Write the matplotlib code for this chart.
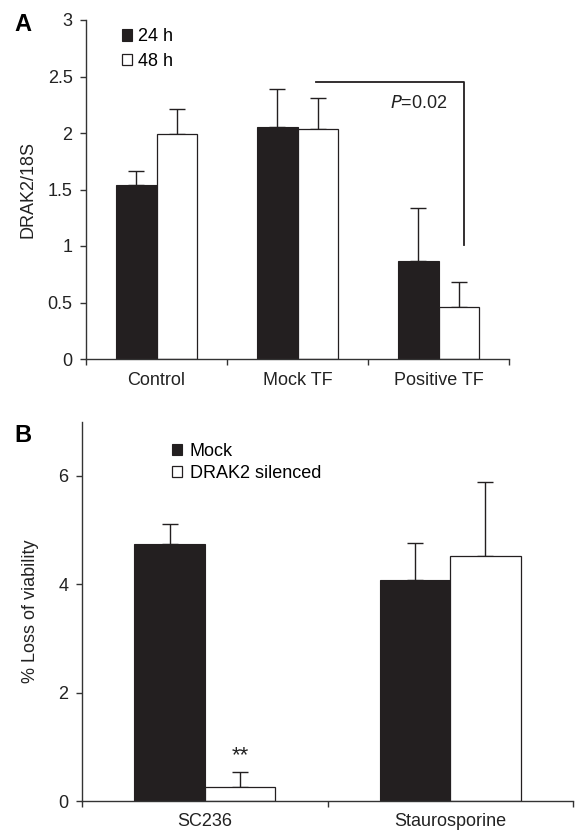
import matplotlib
matplotlib.use("Agg")
import matplotlib.pyplot as plt
import numpy as np

plt.rcParams['font.family'] = ['Liberation Sans', 'DejaVu Sans']

# Panel A data
cats_a = ["Control", "Mock TF", "Positive TF"]
a_24h = [1.54, 2.056, 0.864]
a_24h_err = [0.12, 0.335, 0.476]
a_48h = [1.99, 2.035, 0.46]
a_48h_err = [0.225, 0.275, 0.225]
yticks_a = [0, 0.5, 1, 1.5, 2, 2.5, 3]
ytick_labels_a = ["0", "0.5", "1", "1.5", "2", "2.5", "3"]

# Panel B data
cats_b = ["SC236", "Staurosporine"]
b_mock = [4.74, 4.08]
b_mock_err = [0.37, 0.69]
b_sil = [0.264, 4.53]
b_sil_err = [0.276, 1.35]
yticks_b = [0, 2, 4, 6]

DARK = '#231f20'
FS = 13

fig = plt.figure(figsize=(5.75, 8.31), dpi=100)

def style_axes(ax, ncat):
    for s in ['top', 'right']:
        ax.spines[s].set_visible(False)
    for s in ['left', 'bottom']:
        ax.spines[s].set_linewidth(1.0)
        ax.spines[s].set_color('#333333')
    ax.set_xlim(-0.5, ncat - 0.5)
    ax.set_xticks(np.arange(ncat + 1) - 0.5)
    ax.set_xticklabels([])
    ax.tick_params(axis='x', which='major', direction='out', length=4, width=1, color='#333333')
    ax.tick_params(axis='y', direction='out', length=4.2, width=1, color='#333333',
                   labelsize=FS, pad=5.5, labelcolor='#222222')

def draw_bars(ax, v1, e1, v2, e2, w, capsize):
    x = np.arange(len(v1))
    b1 = ax.bar(x - w / 2, v1, w, color=DARK, edgecolor=DARK, linewidth=0.8, zorder=2)
    b2 = ax.bar(x + w / 2, v2, w, color='white', edgecolor=DARK, linewidth=0.9, zorder=2)
    ax.errorbar(x - w / 2, v1, yerr=[np.zeros(len(v1)), e1], fmt='none', ecolor=DARK,
                elinewidth=1.0, capsize=capsize, capthick=1.0, zorder=1)
    ax.errorbar(x + w / 2, v2, yerr=[np.zeros(len(v2)), e2], fmt='none', ecolor=DARK,
                elinewidth=1.0, capsize=capsize, capthick=1.0, zorder=1)
    return b1, b2

w = 0.287

# ---------- Panel A ----------
axA = fig.add_axes([86/575, 1 - 359/831, (509-86)/575, (359-20)/831])
b1, b2 = draw_bars(axA, a_24h, a_24h_err, a_48h, a_48h_err, w, 5.5)
style_axes(axA, len(cats_a))
axA.set_ylim(0, 3)
axA.set_yticks(yticks_a)
axA.set_yticklabels(ytick_labels_a)
axA.set_xticks(np.arange(len(cats_a)), minor=True)
axA.set_xticklabels(cats_a, minor=True)
axA.tick_params(axis='x', which='minor', length=0, labelsize=FS, pad=9, labelcolor='#222222')
axA.set_ylabel("DRAK2/18S", fontsize=FS, labelpad=8, color='#222222')
# significance bracket
xl = 1 + w / 2 - 0.015
xr = 2.18
axA.plot([xl, xr, xr], [2.45, 2.45, 1.01], color=DARK, lw=1.3, zorder=3, clip_on=False)
axA.text(1.86, 2.26, r"$\it{P}$=0.02", fontsize=FS, ha='center', va='center', color='#222222')
axA.legend([b1, b2], ["24 h", "48 h"], frameon=False, loc='upper left',
           bbox_to_anchor=(0.085, 0.975), borderaxespad=0, borderpad=0,
           handlelength=0.58, handleheight=0.58, handletextpad=0.3, labelspacing=0.42,
           fontsize=FS)
fig.text(14/575, 1 - 13/831, "A", fontsize=17, fontweight='bold', va='top', ha='left')

# ---------- Panel B ----------
axB = fig.add_axes([82/575, 1 - 801/831, (573-82)/575, (801-421.7)/831])
c1, c2 = draw_bars(axB, b_mock, b_mock_err, b_sil, b_sil_err, w, 5.5)
style_axes(axB, len(cats_b))
axB.set_ylim(0, 7)
axB.set_yticks(yticks_b)
axB.set_xticks(np.arange(len(cats_b)), minor=True)
axB.set_xticklabels(cats_b, minor=True)
axB.tick_params(axis='x', which='minor', length=0, labelsize=FS, pad=9, labelcolor='#222222')
axB.set_ylabel("% Loss of viability", fontsize=FS, labelpad=14, color='#222222')
axB.text(0 + w / 2, 0.74, "**", fontsize=16, ha='center', va='baseline', color='#222222')
axB.legend([c1, c2], ["Mock", "DRAK2 silenced"], frameon=False, loc='upper left',
           bbox_to_anchor=(0.183, 0.945), borderaxespad=0, borderpad=0,
           handlelength=0.58, handleheight=0.58, handletextpad=0.4, labelspacing=0.3,
           fontsize=FS)
fig.text(14/575, 1 - 424/831, "B", fontsize=17, fontweight='bold', va='top', ha='left')

fig.savefig("out.png", dpi=100)
